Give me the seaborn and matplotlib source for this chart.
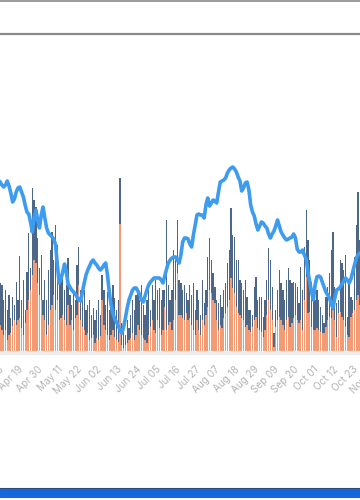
import pandas as pd
import numpy as np
import matplotlib
matplotlib.use("Agg")
import matplotlib.pyplot as plt
from matplotlib.patches import Rectangle
from matplotlib.lines import Line2D
import seaborn as sns

# daily values (start Apr 08)
start_date = "2019-04-08"

orange_vals = [23, 28, 23, 18, 23, 13, 18, 20, 27, 33, 28, 33, 35, 25, 18, 30, 43, 53, 63, 78,
               93, 90, 70, 58, 53, 38, 33, 18, 28, 43, 48, 58, 43, 53, 33, 35, 38, 33, 28, 48,
               28, 33, 23, 35, 38, 68, 33, 26, 23, 18, 20, 13, 15, 18, 10, 15, 13, 17, 53, 28,
               23, 18, 13, 18, 23, 16, 13, 11, 129, 8, 5, 8, 10, 13, 15, 20, 13, 18, 28, 23,
               18, 15, 13, 10, 18, 26, 33, 23, 20, 33, 25, 18, 23, 46, 23, 28, 31, 23, 33, 53,
               80, 38, 38, 35, 33, 40, 33, 35, 28, 23, 18, 33, 23, 18, 33, 28, 38, 46, 63, 60,
               53, 50, 33, 23, 28, 25, 35, 40, 46, 53, 75, 65, 60, 46, 40, 38, 35, 33, 26, 28,
               23, 21, 26, 33, 36, 25, 23, 21, 16, 23, 38, 53, 43, 33, 6, 26, 33, 36, 33, 28,
               23, 33, 36, 26, 30, 35, 38, 33, 30, 33, 23, 53, 76, 40, 41, 26, 23, 23, 25, 23,
               21, 20, 20, 26, 33, 36, 35, 43, 33, 16, 40, 41, 36, 33, 26, 18, 16, 36, 40, 43,
               53, 58, 48, 43]

dark_vals = [40, 42, 45, 35, 40, 30, 40, 15, 29, 15, 43, 20, 62, 28, 55, 13, 38, 67, 22, 87,
             60, 56, 45, 27, 45, 15, 40, 35, 55, 60, 73, 35, 85, 55, 40, 38, 45, 30, 40, 47,
             30, 15, 40, 18, 50, 38, 30, 27, 40, 25, 28, 40, 23, 27, 23, 28, 40, 21, 25, 35,
             25, 43, 30, 33, 45, 39, 30, 42, 46, 22, 18, 10, 23, 12, 23, 33, 30, 40, 35, 30,
             50, 33, 25, 43, 45, 17, 35, 30, 53, 30, 40, 35, 40, 17, 110, 40, 22, 40, 70, 40,
             53, 35, 32, 28, 35, 20, 20, 33, 30, 47, 25, 30, 30, 20, 40, 22, 25, 50, 52, 33,
             27, 16, 20, 27, 30, 21, 28, 30, 44, 50, 70, 53, 56, 47, 53, 35, 35, 30, 47, 28,
             20, 22, 12, 33, 40, 28, 33, 35, 20, 30, 35, 52, 50, 33, 14, 17, 30, 47, 37, 35,
             30, 40, 49, 47, 40, 36, 32, 33, 20, 53, 40, 53, 67, 73, 52, 45, 30, 30, 38, 30,
             25, 18, 10, 30, 33, 44, 68, 78, 33, 34, 13, 52, 54, 50, 72, 18, 57, 20, 13, 53,
             75, 103, 65, 50]

line_vals = [173, 171, 168, 166, 168, 172, 167, 160, 151, 154, 161, 165, 166, 161, 156, 148, 141, 139, 131, 121,
             135, 143, 133, 125, 138, 146, 135, 125, 120, 118, 116, 114, 108, 88, 70, 74, 81, 89, 81, 69,
             66, 63, 61, 59, 56, 53, 52, 61, 70, 78, 83, 87, 91, 93, 90, 88, 85, 83, 85, 88,
             90, 78, 61, 48, 40, 34, 31, 27, 23, 20, 26, 35, 45, 53, 58, 63, 65, 65, 62, 58,
             53, 51, 57, 63, 68, 71, 73, 75, 75, 75, 75, 73, 70, 77, 84, 90, 93, 95, 96, 96,
             93, 90, 98, 111, 115, 115, 114, 109, 106, 118, 128, 138, 139, 138, 138, 135, 148, 155, 147, 150,
             153, 152, 150, 161, 171, 172, 173, 175, 180, 183, 185, 186, 184, 181, 176, 172, 162, 165, 170, 171,
             163, 148, 141, 137, 129, 123, 127, 131, 130, 127, 125, 119, 115, 119, 122, 127, 133, 127, 121, 118,
             115, 113, 114, 115, 116, 119, 115, 104, 101, 101, 103, 98, 94, 81, 71, 61, 53, 68, 76, 77,
             76, 71, 66, 61, 58, 55, 49, 45, 55, 63, 64, 66, 69, 72, 75, 73, 70, 74, 81, 88,
             95, 98, 100, 100]

n_ticks_days = 210
dates = pd.date_range(start_date, periods=n_ticks_days)

df = pd.DataFrame({
    "idx": np.arange(len(orange_vals)),
    "orange": orange_vals,
    "total": np.array(orange_vals) + np.array(dark_vals),
    "line": line_vals,
})

orange_c = "#F29B74"
dark_c = "#4C6787"
line_c = "#3D9BF0"

sns.set_style("white")
fig = plt.figure(figsize=(3.6, 5), dpi=100)

# axes runs past both figure edges (the picture is a crop)
W, H = 360.0, 500.0
x_left = -1.7 - 1.79 * 0.5
x_right = -1.7 + 1.79 * n_ticks_days
ax = fig.add_axes([x_left / W, (H - 353) / H, (x_right - x_left) / W, 313 / H])

sns.barplot(data=df, x="idx", y="total", color=dark_c, saturation=1,
            width=0.72, native_scale=True, ax=ax, linewidth=0)
sns.barplot(data=df, x="idx", y="orange", color=orange_c, saturation=1,
            width=0.72, native_scale=True, ax=ax, linewidth=0)
sns.lineplot(data=df, x="idx", y="line", color=line_c, linewidth=2.6, ax=ax,
             solid_joinstyle="round", solid_capstyle="round")

ax.set_xlim(-0.5, n_ticks_days)
ax.set_ylim(0, 313)
tick_pos = list(range(0, n_ticks_days, 11))
ax.set_xticks(tick_pos)
ax.set_xticklabels([dates[i].strftime("%b %d") for i in tick_pos],
                   rotation=45, ha="right", va="top", rotation_mode="anchor",
                   fontsize=7.2, color="#b4b4b4", family=["Inter", "DejaVu Sans"])
ax.tick_params(axis="x", length=0, pad=8)
ax.set_yticks([])
ax.set_xlabel("")
ax.set_ylabel("")
for s in ["top", "left", "right"]:
    ax.spines[s].set_visible(False)
ax.spines["bottom"].set_color("#ececec")
ax.spines["bottom"].set_linewidth(3)

# frame lines at the top, blue strip at the bottom
fig.add_artist(Line2D([0, 1], [1 - 1.0 / H, 1 - 1.0 / H], color="#9a9a9a", lw=1.4))
fig.add_artist(Line2D([0, 1], [1 - 33.5 / H, 1 - 33.5 / H], color="#8a8a8a", lw=1.6))
fig.add_artist(Rectangle((0, 2 / H), 1, 10 / H, color="#1767DB", lw=0))
fig.add_artist(Line2D([0, 1], [12 / H, 12 / H], color="#2c4c80", lw=0.8))

fig.savefig("out.png", dpi=100)
